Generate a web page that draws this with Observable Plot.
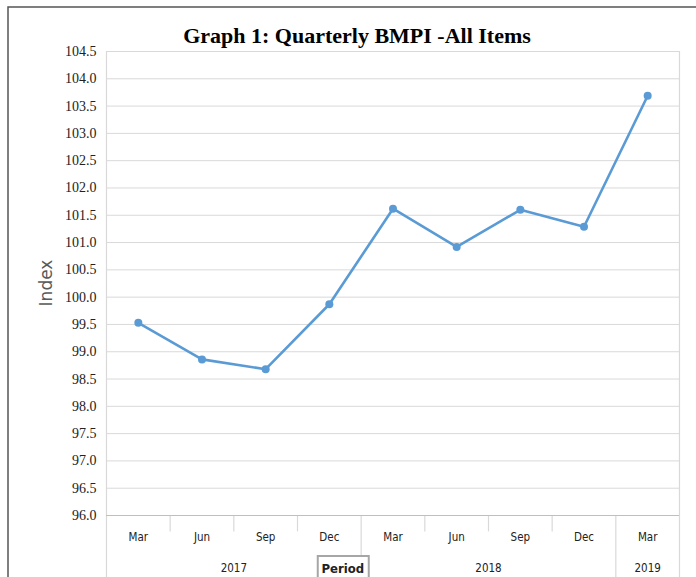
<!DOCTYPE html>
<html>
<head>
<meta charset="utf-8">
<script src="https://cdn.jsdelivr.net/npm/d3@7"></script>
<script src="https://cdn.jsdelivr.net/npm/@observablehq/plot@0.6"></script>
<style>
  html, body { margin: 0; padding: 0; background: #fff; }
  #chart { position: relative; width: 696px; height: 577px; overflow: hidden; }
</style>
</head>
<body>
<div id="chart"></div>
<script>
// ---- data ----
const quarters = ["Mar", "Jun", "Sep", "Dec", "Mar", "Jun", "Sep", "Dec", "Mar"];
const quarterYears = [2017, 2017, 2017, 2017, 2018, 2018, 2018, 2018, 2019];
const bmpi = [99.53, 98.86, 98.68, 99.87, 101.62, 100.92, 101.60, 101.29, 103.69];
const years = [2017, 2018, 2019];
const yTicks = d3.range(96, 104.51, 0.5);
const title = "Graph 1: Quarterly BMPI -All Items";

const rows = quarters.map((q, i) => ({ i, q, year: quarterYears[i], value: bmpi[i] }));
const yearRows = years.map(y => {
  const idx = rows.filter(r => r.year === y).map(r => r.i);
  return { year: y, mid: (d3.min(idx) + d3.max(idx)) / 2 };
});
// category boundaries
const bounds = d3.range(-0.5, quarters.length, 1);
const longBounds = bounds.filter(b => b === -0.5 || b === quarters.length - 0.5 ||
  (b > -0.5 && b < quarters.length - 0.5 && quarterYears[b - 0.5] !== quarterYears[b + 0.5]));
const shortBounds = bounds.filter(b => !longBounds.includes(b));
const edgeBounds = [-0.5, quarters.length - 0.5];

const yMin = 96, yMax = 104.5, yBottom = 94.7, yShort = 95.7;
const grid = "#d9d9d9";

const plot = Plot.plot({
  width: 696,
  height: 577,
  marginLeft: 106,
  marginRight: 17,
  marginTop: 51,
  marginBottom: 62,
  style: { background: "transparent", overflow: "visible" },
  x: { type: "linear", domain: [-0.5, quarters.length - 0.5], axis: null },
  y: { domain: [yMin, yMax], axis: null },
  marks: [
    Plot.ruleY(yTicks.filter(t => t !== yMin), { y: d => d, stroke: grid, strokeWidth: 1 }),
    Plot.ruleX(edgeBounds, { x: d => d, y1: yMax, y2: yBottom, stroke: grid, strokeWidth: 1.2 }),
    Plot.ruleX(longBounds.filter(b => !edgeBounds.includes(b)), { x: d => d, y1: yMin, y2: yBottom, stroke: grid, strokeWidth: 1.2 }),
    Plot.ruleX(shortBounds, { x: d => d, y1: yMin, y2: yShort, stroke: grid, strokeWidth: 1.2 }),
    Plot.ruleY([yMin], { stroke: "#bfbfbf", strokeWidth: 1.2 }),
    // y tick labels
    Plot.text(yTicks, {
      x: -0.5, y: d => d, text: d => d.toFixed(1), textAnchor: "end", dx: -10,
      fontFamily: "Liberation Serif, Times New Roman, serif", fontSize: 14, fill: "#222"
    }),
    // x tick labels
    Plot.text(rows, {
      x: "i", y: yMin, text: "q", dy: 22,
      fontFamily: "DejaVu Sans Condensed, Liberation Sans Narrow, Liberation Sans, sans-serif", fontSize: 11.5, fill: "#222"
    }),
    // year labels
    Plot.text(yearRows, {
      x: "mid", y: yMin, text: d => String(d.year), dy: 53,
      fontFamily: "DejaVu Sans Condensed, Liberation Sans Narrow, Liberation Sans, sans-serif", fontSize: 11.5, fill: "#222"
    }),
    // data line
    Plot.line(rows, { x: "i", y: "value", stroke: "#5b9bd5", strokeWidth: 2.6 }),
    Plot.dot(rows, { x: "i", y: "value", fill: "#5b9bd5", r: 4 }),
    // title
    Plot.text([title], {
      frameAnchor: "top", lineAnchor: "middle", dy: -16, dx: -36, text: d => d,
      fontFamily: "Liberation Serif, Times New Roman, serif", fontWeight: "bold", fontSize: 22, fill: "#000"
    })
  ]
});

document.getElementById("chart").appendChild(plot);

// chart frame, axis titles
const svg = d3.select(plot);
const xs = plot.scale("x"), ys = plot.scale("y");
svg.insert("path", ":first-child")
  .attr("d", "M8,577V7H700")
  .attr("fill", "none").attr("stroke", "#555").attr("stroke-width", 1.5);

svg.append("text")
  .attr("transform", `translate(52,${(ys.apply(yMin) + ys.apply(yMax)) / 2}) rotate(-90)`)
  .attr("text-anchor", "middle")
  .attr("font-family", "DejaVu Sans, sans-serif")
  .attr("font-size", 17)
  .attr("fill", "#595959")
  .text("Index");

const px = (xs.apply(3) + xs.apply(3.5)) / 2 - 2;
const g = svg.append("g");
g.append("rect").attr("x", px - 25).attr("y", 556).attr("width", 51).attr("height", 30)
  .attr("fill", "#fff").attr("stroke", "#a6a6a6").attr("stroke-width", 2);
g.append("text").attr("x", px).attr("y", 573).attr("text-anchor", "middle")
  .attr("font-family", "DejaVu Sans Condensed, Liberation Sans, sans-serif")
  .attr("font-weight", "bold").attr("font-size", 13).attr("fill", "#222")
  .text("Period");
</script>
</body>
</html>
